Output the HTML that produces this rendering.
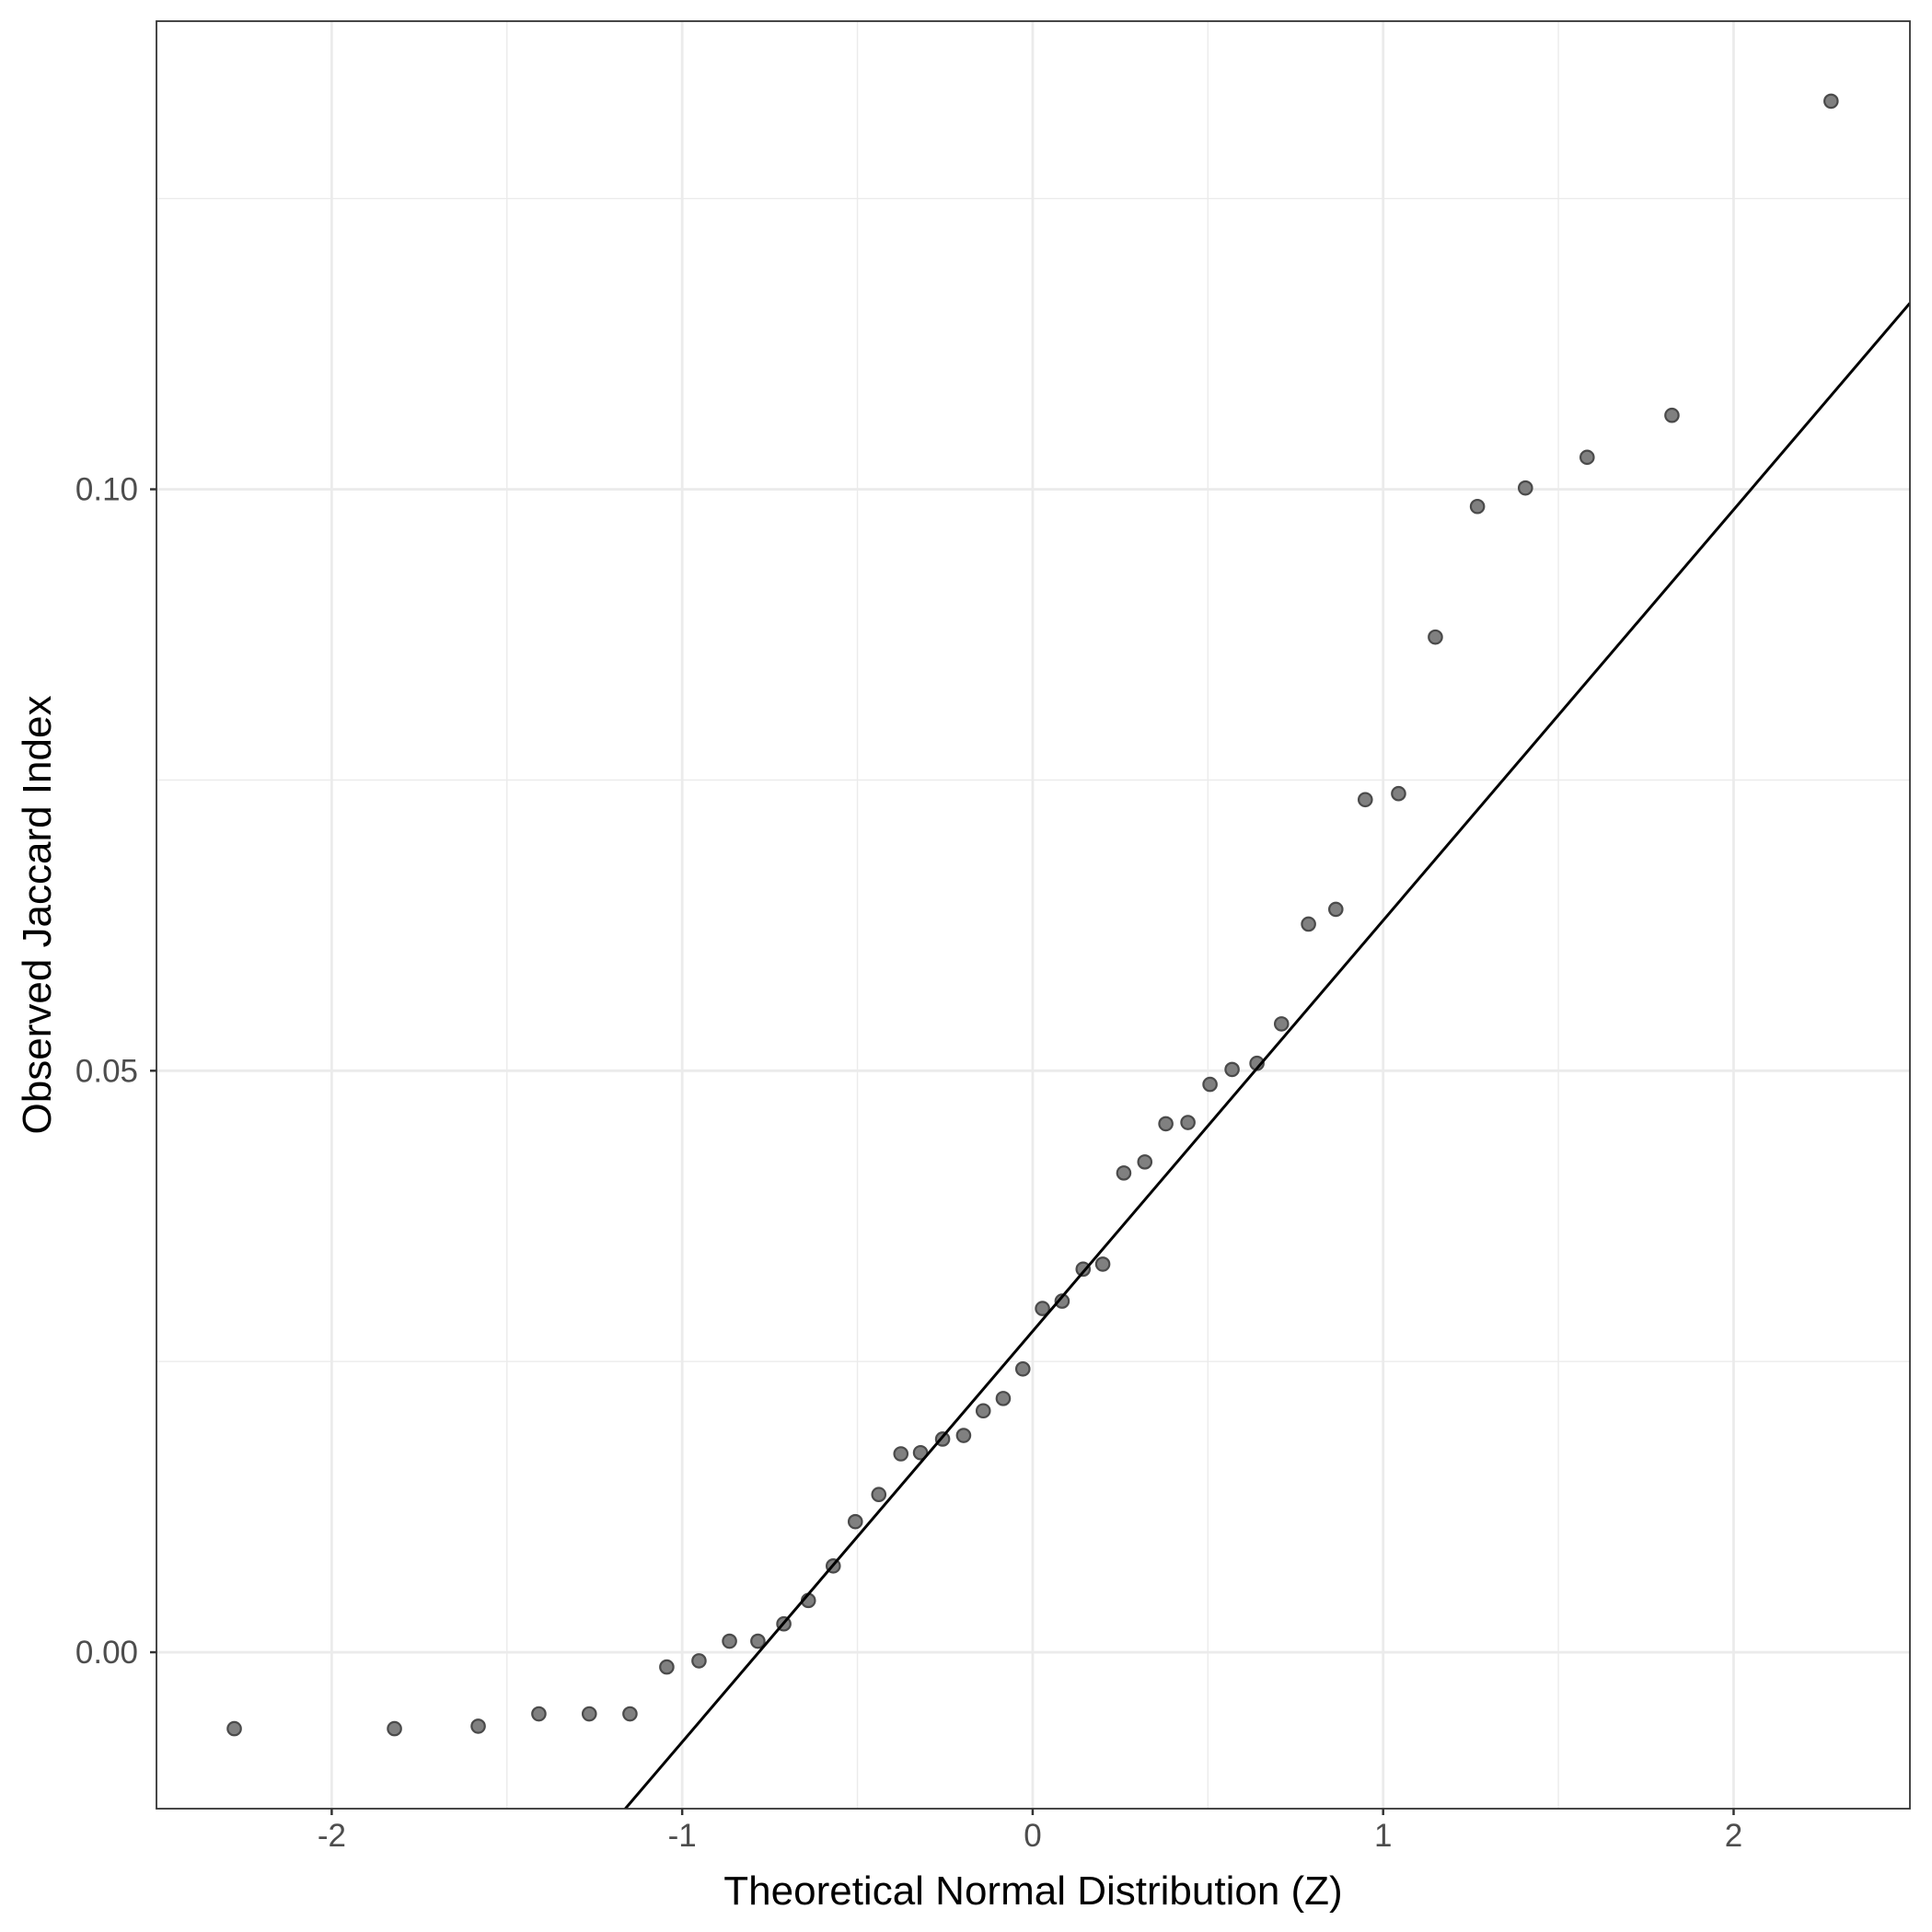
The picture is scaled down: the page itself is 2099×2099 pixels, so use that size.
<!DOCTYPE html>
<html><head><meta charset="utf-8"><style>html,body{margin:0;padding:0;background:#fff;overflow:hidden;width:2099px;height:2099px}svg{display:block}text{font-family:"Liberation Sans",sans-serif}</style></head>
<body>
<svg id="chart" width="2099" height="2099" viewBox="0 0 2099 2099" xmlns="http://www.w3.org/2000/svg"></svg>
<script>
const theoretical = [-2.278,-1.821,-1.582,-1.409,-1.265,-1.149,-1.044,-0.952,-0.865,-0.784,-0.710,-0.640,-0.569,-0.506,-0.439,-0.376,-0.320,-0.257,-0.197,-0.141,-0.084,-0.028,0.028,0.084,0.144,0.200,0.260,0.320,0.380,0.443,0.506,0.569,0.640,0.710,0.787,0.865,0.949,1.044,1.149,1.269,1.406,1.582,1.824,2.278];
const observed = [-0.00657,-0.00657,-0.00636,-0.0053,-0.0053,-0.0053,-0.00127,-0.00074,0.00095,0.00095,0.00244,0.00445,0.00742,0.01123,0.01356,0.01706,0.01716,0.01833,0.01864,0.02076,0.02182,0.02436,0.02956,0.03019,0.03294,0.03337,0.04121,0.04216,0.04544,0.04555,0.04883,0.05011,0.05064,0.05403,0.06261,0.06388,0.07331,0.07383,0.08729,0.09852,0.10011,0.10275,0.10636,0.13337];
const xTicks = [-2,-1,0,1,2];
const xTickLabels = ["-2","-1","0","1","2"];
const xMinor = [-1.5,-0.5,0.5,1.5];
const yTicks = [0,0.05,0.10];
const yTickLabels = ["0.00","0.05","0.10"];
const yMinor = [0.025,0.075,0.125];
const refLine = [0.0276, 0.03532]; // intercept, slope

const L=170,R=2075,T=23,B=1965;
const xMin=-2.5,xMax=2.503,yMin=-0.01345,yMax=0.14025;
const sx=v=>L+(v-xMin)/(xMax-xMin)*(R-L);
const sy=v=>B-(v-yMin)/(yMax-yMin)*(B-T);
const svg=document.getElementById('chart');
const NS='http://www.w3.org/2000/svg';
function mk(tag,attrs,parent){const e=document.createElementNS(NS,tag);for(const k in attrs)e.setAttribute(k,attrs[k]);(parent||svg).appendChild(e);return e;}
const clip=mk('clipPath',{id:'pc'});mk('rect',{x:L,y:T,width:R-L,height:B-T},clip);
const grid=mk('g',{});


xMinor.forEach(v=>{mk('line',{x1:sx(v),x2:sx(v),y1:T,y2:B,stroke:'#ebebeb','stroke-width':1.4},grid);});
yMinor.forEach(v=>{mk('line',{x1:L,x2:R,y1:sy(v),y2:sy(v),stroke:'#ebebeb','stroke-width':1.4},grid);});
xTicks.forEach(v=>{mk('line',{x1:sx(v),x2:sx(v),y1:T,y2:B,stroke:'#ebebeb','stroke-width':2.8},grid);});
yTicks.forEach(v=>{mk('line',{x1:L,x2:R,y1:sy(v),y2:sy(v),stroke:'#ebebeb','stroke-width':2.8},grid);});
const pts=mk('g',{});


theoretical.forEach((x,i)=>{const c=mk('circle',{cx:sx(x),cy:sy(observed[i]),r:7.2,fill:'#808080',stroke:'#4a4a4a','stroke-width':2.2},pts);

});
const ln=mk('line',{x1:sx(xMin),y1:sy(refLine[0]+refLine[1]*xMin),x2:sx(xMax),y2:sy(refLine[0]+refLine[1]*xMax),stroke:'#000','stroke-width':3,'clip-path':'url(#pc)'});


const fr=mk('rect',{x:L,y:T,width:R-L,height:B-T,fill:'none',stroke:'#333','stroke-width':1.8});


xTicks.forEach((v,i)=>{mk('line',{x1:sx(v),x2:sx(v),y1:B,y2:B+7,stroke:'#333','stroke-width':2.5});
const t=mk('text',{x:sx(v),y:2006,'text-anchor':'middle','font-size':35,fill:'#4d4d4d'});t.textContent=xTickLabels[i];

});
yTicks.forEach((v,i)=>{mk('line',{x1:L-7,x2:L,y1:sy(v),y2:sy(v),stroke:'#333','stroke-width':2.5});
const t=mk('text',{x:L-20,y:sy(v)+12,'text-anchor':'end','font-size':35,fill:'#4d4d4d'});t.textContent=yTickLabels[i];

});
const xt=mk('text',{x:(L+R)/2,y:2069,'text-anchor':'middle','font-size':44,fill:'#000'});xt.textContent='Theoretical Normal Distribution (Z)';


const yt=mk('text',{x:0,y:0,'text-anchor':'middle','font-size':44,fill:'#000',transform:`translate(55,${(T+B)/2}) rotate(-90)`});yt.textContent='Observed Jaccard Index';


</script>
</body></html>
